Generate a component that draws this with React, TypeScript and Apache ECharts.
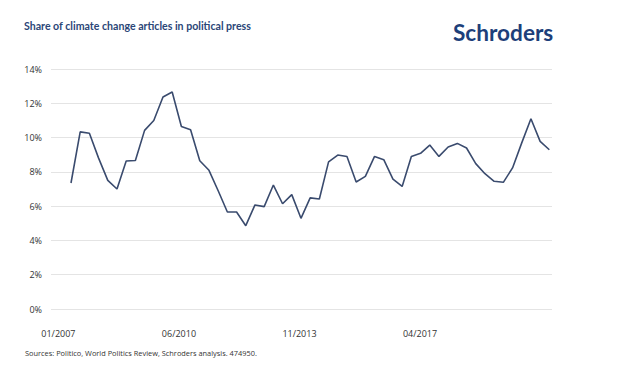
import React, { useEffect, useRef } from 'react';
import * as echarts from 'echarts';

// Share of climate change articles (%), one value per period
const shareValues = [
  7.35, 10.33, 10.25, 8.8, 7.5, 7.0, 8.63, 8.66, 10.42, 11.0,
  12.37, 12.66, 10.65, 10.46, 8.65, 8.09, 6.9, 5.66, 5.66, 4.86,
  6.07, 5.97, 7.23, 6.14, 6.67, 5.29, 6.48, 6.42, 8.58, 8.98,
  8.9, 7.41, 7.74, 8.9, 8.71, 7.58, 7.15, 8.9, 9.08, 9.56,
  8.9, 9.45, 9.66, 9.39, 8.48, 7.89, 7.45, 7.39, 8.23, 9.69,
  11.1, 9.78, 9.29,
];

// x tick labels (months since 01/2007 and their texts)
const xTickMonths = [0, 41, 82, 123];
const xTickLabels = ['01/2007', '06/2010', '11/2013', '04/2017'];

const titleText = 'Share of climate change articles in political press';
const logoText = 'Schroders';
const sourceText = 'Sources: Politico, World Politics Review, Schroders analysis. 474950.';

export default function App() {
  const ref = useRef<HTMLDivElement>(null);

  useEffect(() => {
    if (!ref.current) return;
    const chart = echarts.init(ref.current, undefined, { renderer: 'svg' });
    const option: any = {
      animation: false,
      backgroundColor: '#ffffff',
      grid: { left: 51, right: 74, top: 69, bottom: 58, outerBoundsMode: 'none' },
      xAxis: [
        {
          type: 'value',
          min: -2.174,
          max: 52.29,
          show: false,
          splitLine: { show: false },
        },
        {
          type: 'value',
          min: -2.52,
          max: 167.9,
          position: 'bottom',
          axisLine: { show: false },
          axisTick: { show: false },
          splitLine: { show: false },
          axisLabel: {
            customValues: xTickMonths,
            formatter: (v: number) => {
              const i = xTickMonths.indexOf(Math.round(v));
              return i >= 0 ? xTickLabels[i] : '';
            },
            margin: 20,
            fontSize: 9,
            fontFamily: 'Open Sans',
            color: '#333333',
          },
        },
      ],
      yAxis: {
        type: 'value',
        min: 0,
        max: 14,
        interval: 2,
        axisLine: { show: false },
        axisTick: { show: false },
        splitLine: { lineStyle: { color: '#e4e4e4', width: 1 } },
        axisLabel: {
          formatter: '{value}%',
          margin: 9,
          fontSize: 9,
          fontFamily: 'Open Sans',
          color: '#333333',
        },
      },
      series: [
        {
          type: 'line',
          xAxisIndex: 0,
          data: shareValues.map((v, i) => [i, v]),
          symbol: 'none',
          lineStyle: { color: '#3a4b6e', width: 1.6 },
        },
      ],
      graphic: [
        {
          type: 'text',
          x: 24,
          y: 26,
          style: {
            text: titleText,
            fill: '#2b4677',
            fontSize: 10.6,
            fontWeight: 'bold',
            fontFamily: 'Lato',
            verticalAlign: 'middle',
            align: 'left',
          },
        },
        {
          type: 'text',
          x: 453,
          y: 32,
          style: {
            text: logoText,
            fill: '#1d3f7a',
            fontSize: 22.6,
            fontWeight: 'bold',
            fontFamily: 'Lato',
            verticalAlign: 'middle',
            align: 'left',
          },
        },
        {
          type: 'text',
          x: 25,
          y: 353,
          style: {
            text: sourceText,
            fill: '#333333',
            fontSize: 7.4,
            fontFamily: 'Open Sans',
            verticalAlign: 'middle',
            align: 'left',
          },
        },
      ],
    };
    chart.setOption(option);
    return () => chart.dispose();
  }, []);

  return (
    <div
      ref={ref}
      style={{ position: 'fixed', left: 0, top: 0, width: 626, height: 367, background: '#fff' }}
    />
  );
}
